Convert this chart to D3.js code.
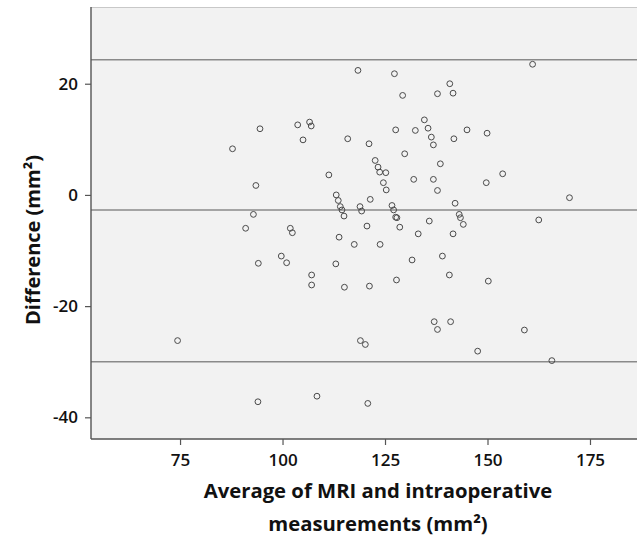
<!DOCTYPE html>
<html>
<head>
<meta charset="utf-8">
<script src="https://cdn.jsdelivr.net/npm/d3@7"></script>
<style>
  html, body { margin: 0; padding: 0; background: #fff; }
  svg { display: block; }
</style>
</head>
<body>
<svg id="chart" width="637" height="536"></svg>
<script>
// Average of MRI and intraoperative measurements (mm²)
const avgValues = [
  87.8, 94.5, 93.5, 103.7, 106.6, 107.0, 105.0, 92.9, 91.0, 101.9,
  102.4, 94.1, 99.7, 101.0, 118.4, 127.3, 161.0, 140.8, 141.6, 137.8,
  129.3, 134.6, 135.5, 127.6, 132.4, 145.0, 149.9, 115.9, 121.1, 136.3,
  136.8, 141.8, 129.8, 138.5, 122.6, 123.3, 123.7, 125.2, 111.3, 124.6,
  125.3, 132.0, 136.8, 137.8, 149.7, 153.7, 170.0, 113.1, 113.6, 114.1,
  114.5, 115.0, 118.9, 119.3, 121.4, 126.7, 127.1, 127.6, 127.9, 128.6,
  142.1, 143.1, 143.4, 144.1, 135.8, 133.1, 141.6, 120.6, 162.5, 113.8,
  117.5, 123.8, 113.0, 131.6, 139.0, 107.1, 107.1, 74.4, 94.0, 108.4,
  115.1, 121.2, 127.8, 140.7, 150.2, 137.0, 137.8, 141.0, 159.0, 119.0,
  120.2, 147.6, 165.7, 120.8
];
// Difference (mm²)
const diffValues = [
  8.3, 11.9, 1.7, 12.6, 13.1, 12.4, 9.9, -3.5, -6.0, -6.0,
  -6.8, -12.3, -11.0, -12.2, 22.4, 21.8, 23.5, 20.0, 18.3, 18.2,
  17.9, 13.5, 12.0, 11.7, 11.6, 11.7, 11.1, 10.1, 9.2, 10.4,
  9.0, 10.1, 7.4, 5.6, 6.2, 5.0, 4.1, 4.0, 3.6, 2.2,
  0.9, 2.8, 2.8, 0.8, 2.2, 3.8, -0.5, 0.0, -1.0, -2.1,
  -2.7, -3.8, -2.1, -2.9, -0.8, -1.9, -2.7, -4.0, -4.1, -5.8,
  -1.5, -3.5, -4.1, -5.3, -4.7, -7.0, -7.0, -5.6, -4.5, -7.6,
  -8.9, -8.9, -12.4, -11.7, -11.0, -14.4, -16.2, -26.2, -37.2, -36.2,
  -16.6, -16.4, -15.3, -14.4, -15.5, -22.8, -24.2, -22.8, -24.3, -26.2,
  -26.9, -28.1, -29.8, -37.5
];
// Reference lines: upper limit of agreement, mean difference, lower limit
const refLines = [24.3, -2.7, -30.0];
const xTicks = [75, 100, 125, 150, 175];
const yTicks = [-40, -20, 0, 20];
const xTitleLines = ["Average of MRI and intraoperative", "measurements (mm²)"];
const yTitle = "Difference (mm²)";

const svg = d3.select("#chart");
const plot = { left: 91, right: 640, top: 7, bottom: 439 };

const x = d3.scaleLinear().domain([53.28, 187.2]).range([plot.left, plot.right]);
const y = d3.scaleLinear().domain([-43.9, 33.8]).range([plot.bottom, plot.top]);

// plot background
svg.append("rect")
  .attr("x", plot.left).attr("y", plot.top)
  .attr("width", plot.right - plot.left).attr("height", plot.bottom - plot.top)
  .attr("fill", "#f2f2f2");
// top border
svg.append("line")
  .attr("x1", plot.left).attr("x2", plot.right)
  .attr("y1", plot.top + 0.5).attr("y2", plot.top + 0.5)
  .attr("stroke", "#c8c8c8").attr("stroke-width", 1);

// reference lines
svg.append("g").selectAll("line").data(refLines).join("line")
  .attr("x1", plot.left).attr("x2", plot.right)
  .attr("y1", d => y(d)).attr("y2", d => y(d))
  .attr("stroke", "#8a8a8a").attr("stroke-width", 1.6);

// points
const pts = avgValues.map((v, i) => ({ x: v, y: diffValues[i] }));
svg.append("g").selectAll("circle").data(pts).join("circle")
  .attr("cx", d => x(d.x)).attr("cy", d => y(d.y)).attr("r", 2.9)
  .attr("fill", "none").attr("stroke", "#4a4a4a").attr("stroke-width", 1);

// axes
const fontFam = "'Open Sans', 'DejaVu Sans', sans-serif";
const fmt = d => String(d);
const xAxis = svg.append("g")
  .attr("transform", `translate(0,${plot.bottom})`)
  .call(d3.axisBottom(x).tickValues(xTicks).tickSize(6).tickPadding(9).tickFormat(fmt));
const yAxis = svg.append("g")
  .attr("transform", `translate(${plot.left},0)`)
  .call(d3.axisLeft(y).tickValues(yTicks).tickSize(6).tickPadding(7).tickFormat(fmt));

[xAxis, yAxis].forEach(g => {
  g.select(".domain").attr("stroke", "#555").attr("stroke-width", 1.4);
  g.selectAll(".tick line").attr("stroke", "#555").attr("stroke-width", 1.2);
  g.selectAll(".tick text")
    .attr("fill", "#111")
    .style("font-family", fontFam)
    .style("font-size", "17px")
    .style("font-weight", "600");
});
xAxis.select(".domain").attr("d", `M${plot.left},0H${plot.right}`);
yAxis.select(".domain").attr("d", `M0,${plot.top}V${plot.bottom}`);

// titles
svg.append("g").selectAll("text").data(xTitleLines).join("text")
  .attr("x", 378).attr("y", (d, i) => 498 + i * 33)
  .attr("text-anchor", "middle")
  .style("font-family", fontFam).style("font-size", "20.3px").style("font-weight", "700")
  .attr("fill", "#111")
  .text(d => d);

svg.append("text")
  .attr("transform", `translate(40,240) rotate(-90)`)
  .attr("text-anchor", "middle")
  .style("font-family", fontFam).style("font-size", "20px").style("font-weight", "700")
  .attr("fill", "#111")
  .text(yTitle);
</script>
</body>
</html>
